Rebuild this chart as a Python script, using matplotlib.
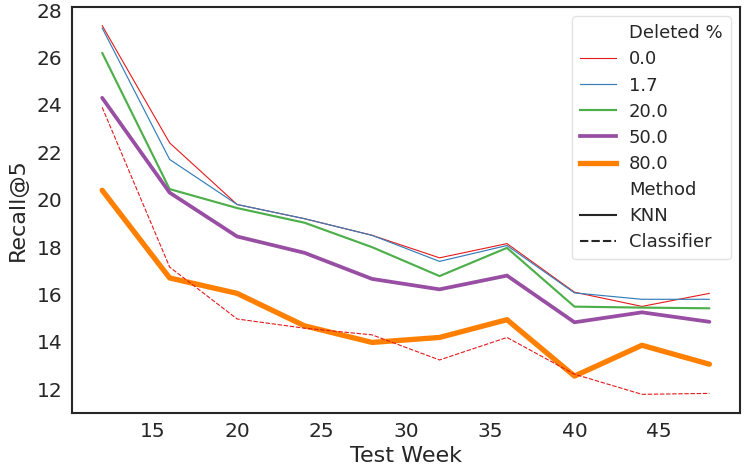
import matplotlib

matplotlib.use("Agg")
import matplotlib.pyplot as plt
from matplotlib.lines import Line2D

# --------------------------------------------------------------------------- #
# Data
# --------------------------------------------------------------------------- #
weeks = [12, 16, 20, 24, 28, 32, 36, 40, 44, 48]
deleted_pct = ["0.0", "1.7", "20.0", "50.0", "80.0"]

knn_0 = [27.35, 22.4, 19.8, 19.2, 18.5, 17.55, 18.15, 16.1, 15.5, 16.05]
knn_1_7 = [27.25, 21.7, 19.8, 19.2, 18.5, 17.4, 18.07, 16.07, 15.8, 15.8]
knn_20 = [26.2, 20.45, 19.65, 19.03, 18.0, 16.78, 17.97, 15.49, 15.45, 15.42]
knn_50 = [24.3, 20.3, 18.45, 17.76, 16.66, 16.22, 16.8, 14.83, 15.25, 14.85]
knn_80 = [20.4, 16.7, 16.05, 14.68, 13.98, 14.19, 14.94, 12.56, 13.86, 13.06]
clf_0 = [23.9, 17.16, 14.97, 14.58, 14.3, 13.24, 14.19, 12.64, 11.79, 11.83]

knn_series = [knn_0, knn_1_7, knn_20, knn_50, knn_80]

COLORS = ["#e41a1c", "#377eb8", "#4daf4a", "#984ea3", "#ff7f00"]
WIDTHS = [0.8, 0.86, 1.55, 2.7, 3.8]
INK = "#262626"

plt.rcParams.update({
    "font.family": "DejaVu Sans",
    "text.color": INK,
    "axes.labelcolor": INK,
    "xtick.color": INK,
    "ytick.color": INK,
    "axes.edgecolor": INK,
})

fig = plt.figure(figsize=(7.48, 4.75), dpi=100)
ax = fig.add_axes([0.096, 0.131, 0.893, 0.854])

for vals, c, lw in zip(knn_series, COLORS, WIDTHS):
    ax.plot(weeks, vals, color=c, lw=lw, solid_capstyle="round")
ax.plot(weeks, clf_0, color=COLORS[0], lw=WIDTHS[0], dashes=(4, 1.5))

ax.margins(x=0.05, y=0.05)
ax.set_yticks(range(12, 29, 2))
ax.set_xticks(range(15, 50, 5))
ax.tick_params(labelsize=14.5, length=0, pad=7)
for spine in ax.spines.values():
    spine.set_linewidth(1.5)
ax.set_xlabel("Test Week", fontsize=16, labelpad=3)
ax.set_ylabel("Recall@5", fontsize=16, labelpad=6)

blank = Line2D([], [], color="none")
handles = [blank]
labels = ["Deleted %"]
for lab, c, lw in zip(deleted_pct, COLORS, WIDTHS):
    handles.append(Line2D([], [], color=c, lw=lw))
    labels.append(lab)
handles += [blank, Line2D([], [], color=INK, lw=1.5),
            Line2D([], [], color=INK, lw=1.5, dashes=(4, 1.5))]
labels += ["Method", "KNN", "Classifier"]
leg = ax.legend(handles, labels, loc="upper right", fontsize=13,
                frameon=True, fancybox=True, framealpha=0.8,
                borderpad=0.45, labelspacing=0.45, handlelength=2.0,
                handletextpad=0.7, bbox_to_anchor=(1.0, 1.0))
leg.get_frame().set_edgecolor("#dddddd")

fig.savefig("out.png", dpi=100, facecolor="white")
